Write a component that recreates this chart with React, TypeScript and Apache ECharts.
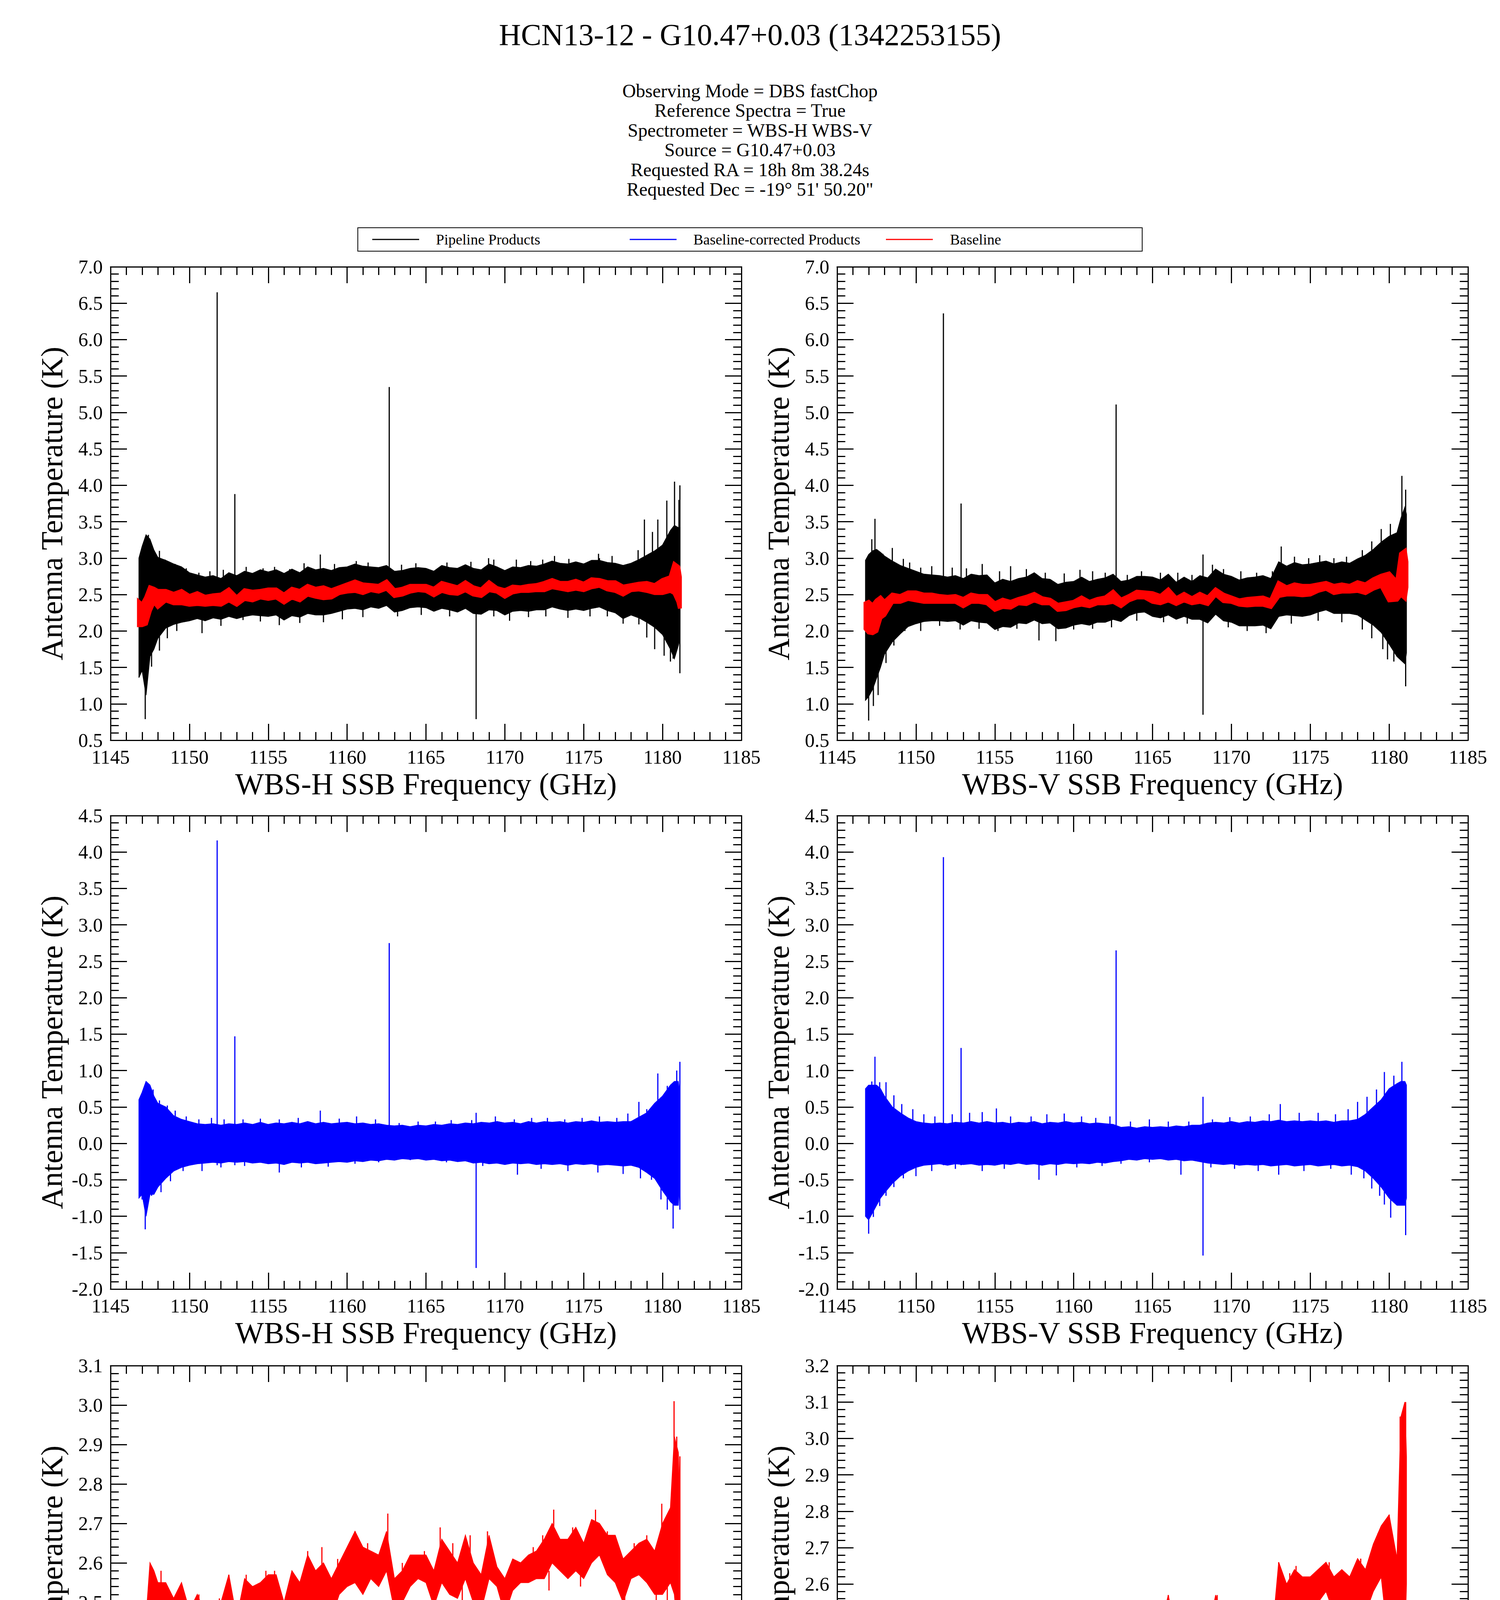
import React, { useEffect, useRef } from 'react';
import * as echarts from 'echarts';

const FONT = '"Liberation Serif", "Times New Roman", serif';

const TITLE = 'HCN13-12 - G10.47+0.03 (1342253155)';
const INFO_LINES = [
  'Observing Mode = DBS fastChop',
  'Reference Spectra = True',
  'Spectrometer = WBS-H WBS-V',
  'Source = G10.47+0.03',
  'Requested RA = 18h 8m 38.24s',
  'Requested Dec = -19\u00b0 51\' 50.20"',
];
const LEGEND_NAMES = ['Pipeline Products', 'Baseline-corrected Products', 'Baseline'];
const X_NAMES = ['WBS-H SSB Frequency (GHz)', 'WBS-V SSB Frequency (GHz)'];
const Y_NAME = 'Antenna Temperature (K)';

// frequency bins (GHz)
const FREQ = [
  1146.8, 1147.0, 1147.25, 1147.5, 1147.75, 1148.0, 1148.5, 1149.0, 1149.5, 1150.0,
  1150.5, 1151.0, 1151.5, 1152.0, 1152.5, 1153.0, 1153.5, 1154.0, 1154.5, 1155.0,
  1155.5, 1156.0, 1156.5, 1157.0, 1157.5, 1158.0, 1158.5, 1159.0, 1159.5, 1160.0,
  1160.5, 1161.0, 1161.5, 1162.0, 1162.5, 1163.0, 1163.5, 1164.0, 1164.5, 1165.0,
  1165.5, 1166.0, 1166.5, 1167.0, 1167.5, 1168.0, 1168.5, 1169.0, 1169.5, 1170.0,
  1170.5, 1171.0, 1171.5, 1172.0, 1172.5, 1173.0, 1173.5, 1174.0, 1174.5, 1175.0,
  1175.5, 1176.0, 1176.5, 1177.0, 1177.5, 1178.0, 1178.5, 1179.0, 1179.5, 1180.0,
  1180.5, 1180.75, 1181.0, 1181.1,
];

// ---- WBS-H pipeline product (black): dense envelope + individual spikes [f, lo, hi]
const H_PIPE_LO = [
  1.36, 1.46, 1.12, 1.65, 1.75, 1.90, 2.04, 2.09, 2.12, 2.14,
  2.17, 2.14, 2.18, 2.16, 2.20, 2.17, 2.20, 2.22, 2.21, 2.20,
  2.22, 2.15, 2.21, 2.19, 2.24, 2.22, 2.22, 2.24, 2.27, 2.30,
  2.31, 2.29, 2.33, 2.31, 2.35, 2.26, 2.28, 2.32, 2.33, 2.32,
  2.27, 2.31, 2.29, 2.26, 2.31, 2.24, 2.23, 2.29, 2.28, 2.22,
  2.27, 2.28, 2.27, 2.29, 2.29, 2.33, 2.30, 2.28, 2.30, 2.28,
  2.31, 2.33, 2.28, 2.25, 2.17, 2.22, 2.18, 2.12, 2.05, 1.95,
  1.75, 1.62, 1.80, 1.90,
];
const H_PIPE_HI = [
  3.00, 3.16, 3.32, 3.26, 3.11, 3.01, 2.97, 2.92, 2.88, 2.80,
  2.77, 2.74, 2.76, 2.72, 2.80, 2.76, 2.82, 2.79, 2.84, 2.81,
  2.84, 2.79, 2.85, 2.80, 2.88, 2.84, 2.86, 2.83, 2.87, 2.88,
  2.92, 2.89, 2.88, 2.87, 2.90, 2.82, 2.83, 2.86, 2.87, 2.86,
  2.82, 2.90, 2.87, 2.86, 2.91, 2.86, 2.84, 2.92, 2.88, 2.83,
  2.88, 2.87, 2.90, 2.89, 2.92, 2.96, 2.93, 2.92, 2.95, 2.92,
  2.97, 2.97, 2.94, 2.93, 2.90, 2.93, 2.98, 3.04, 3.10, 3.18,
  3.38, 3.45, 3.42, 3.30,
];
const H_PIPE_SPIKES = [
  [1147.2, 0.79, 2.4], [1147.4, 2.6, 3.32], [1148.1, 2.7, 3.1], [1150.8, 1.97, 2.3],
  [1151.76, 2.3, 6.65], [1152.88, 2.3, 3.88], [1158.3, 2.5, 3.05], [1162.67, 2.4, 5.35],
  [1168.18, 0.79, 2.6], [1169.3, 2.6, 2.98], [1173.15, 2.6, 3.03], [1176.0, 2.6, 3.0],
  [1177.5, 2.1, 2.3], [1179.7, 2.4, 3.53], [1180.67, 1.62, 2.5], [1180.76, 2.5, 4.05],
  [1181.04, 2.5, 3.8], [1181.1, 1.42, 4.0],
  [1147.58, 2.6, 3.11], [1148.45, 2.6, 2.98], [1149.1, 2.6, 2.92], [1149.8, 2.6, 2.86],
  [1150.6, 2.6, 2.8], [1151.3, 2.6, 2.82], [1152.15, 2.6, 2.84], [1153.6, 2.6, 2.88],
  [1154.67, 2.6, 2.86], [1155.4, 2.6, 2.88], [1156.36, 2.6, 2.85], [1157.27, 2.6, 2.93],
  [1159.2, 2.6, 2.92], [1160.58, 2.6, 2.96], [1161.33, 2.6, 2.94], [1163.45, 2.6, 2.91],
  [1164.36, 2.6, 2.93], [1166.33, 2.6, 2.94], [1167.85, 2.6, 2.95], [1168.97, 2.6, 3.0],
  [1170.73, 2.6, 2.98], [1171.64, 2.6, 2.96], [1172.4, 2.6, 2.98], [1174.06, 2.6, 2.99],
  [1175.94, 2.6, 3.06], [1176.8, 2.6, 3.03], [1178.45, 2.6, 3.11], [1178.85, 2.6, 3.53],
  [1179.36, 2.6, 3.36], [1180.27, 2.6, 3.79],
  [1147.6, 1.51, 2.3], [1148.1, 1.73, 2.3], [1148.6, 1.9, 2.3], [1149.2, 2.0, 2.3],
  [1152.0, 2.07, 2.3], [1153.4, 2.15, 2.4], [1154.5, 2.13, 2.4], [1155.7, 2.08, 2.4],
  [1157.0, 2.11, 2.4], [1158.5, 2.12, 2.4], [1159.7, 2.16, 2.4], [1161.0, 2.19, 2.45],
  [1163.2, 2.2, 2.45], [1164.7, 2.22, 2.45], [1166.5, 2.2, 2.45], [1169.3, 2.2, 2.45],
  [1170.3, 2.14, 2.4], [1171.5, 2.19, 2.45], [1172.6, 2.2, 2.45], [1174.0, 2.18, 2.45],
  [1175.4, 2.2, 2.45], [1176.5, 2.2, 2.45], [1178.5, 2.09, 2.4], [1179.0, 1.91, 2.3],
  [1179.5, 1.75, 2.3], [1180.1, 1.66, 2.3], [1180.5, 1.58, 2.3],
];

// ---- WBS-V pipeline product (black)
const V_PIPE_LO = [
  1.05, 1.10, 1.20, 1.35, 1.50, 1.68, 1.85, 1.96, 2.06, 2.10,
  2.13, 2.14, 2.14, 2.13, 2.14, 2.08, 2.14, 2.12, 2.11, 2.02,
  2.06, 2.05, 2.11, 2.10, 2.15, 2.10, 2.11, 2.03, 2.04, 2.08,
  2.10, 2.08, 2.12, 2.12, 2.16, 2.13, 2.21, 2.25, 2.26, 2.20,
  2.18, 2.22, 2.16, 2.20, 2.16, 2.16, 2.11, 2.23, 2.14, 2.12,
  2.07, 2.07, 2.07, 2.08, 2.03, 2.20, 2.22, 2.21, 2.20, 2.22,
  2.26, 2.29, 2.24, 2.24, 2.24, 2.22, 2.15, 2.08, 1.98, 1.82,
  1.65, 1.60, 1.55, 1.70,
];
const V_PIPE_HI = [
  2.97, 3.05, 3.10, 3.12, 3.08, 3.03, 2.96, 2.90, 2.86, 2.82,
  2.78, 2.77, 2.76, 2.74, 2.76, 2.72, 2.78, 2.76, 2.77, 2.66,
  2.71, 2.68, 2.72, 2.74, 2.80, 2.72, 2.71, 2.64, 2.67, 2.68,
  2.74, 2.68, 2.71, 2.73, 2.78, 2.68, 2.70, 2.75, 2.75, 2.74,
  2.70, 2.78, 2.67, 2.74, 2.68, 2.76, 2.73, 2.85, 2.78, 2.75,
  2.70, 2.73, 2.74, 2.76, 2.72, 2.95, 2.89, 2.94, 2.91, 2.92,
  2.94, 2.96, 2.92, 2.95, 2.93, 2.99, 3.04, 3.12, 3.22, 3.30,
  3.35, 3.55, 3.70, 3.60,
];
const V_PIPE_SPIKES = [
  [1147.0, 0.77, 1.6], [1147.4, 2.5, 3.54], [1151.74, 2.3, 6.36], [1152.86, 2.2, 3.75],
  [1154.2, 2.6, 2.92], [1157.8, 1.87, 2.2], [1158.87, 1.86, 2.2], [1162.69, 2.3, 5.11],
  [1168.2, 0.85, 3.05], [1173.16, 2.6, 3.16], [1180.08, 2.6, 3.47], [1180.3, 1.58, 2.4],
  [1180.81, 2.6, 4.13], [1181.05, 1.24, 3.94],
  [1147.2, 2.6, 3.26], [1147.9, 2.6, 3.06], [1148.5, 2.6, 3.14], [1149.2, 2.6, 2.99],
  [1149.6, 2.6, 2.94], [1150.3, 2.6, 2.87], [1151.0, 2.6, 2.89], [1152.3, 2.55, 2.87],
  [1153.2, 2.55, 2.86], [1155.3, 2.5, 2.82], [1156.0, 2.5, 2.89], [1157.0, 2.5, 2.85],
  [1158.2, 2.5, 2.8], [1159.4, 2.5, 2.79], [1160.4, 2.5, 2.84], [1161.2, 2.5, 2.82],
  [1162.0, 2.5, 2.8], [1163.4, 2.5, 2.77], [1164.3, 2.5, 2.82], [1165.5, 2.5, 2.8],
  [1166.6, 2.5, 2.8], [1167.5, 2.5, 2.77], [1168.8, 2.5, 2.91], [1169.5, 2.5, 2.85],
  [1170.6, 2.5, 2.82], [1171.6, 2.5, 2.8], [1172.6, 2.5, 2.82], [1174.0, 2.6, 3.02],
  [1174.9, 2.6, 3.0], [1175.6, 2.6, 3.04], [1176.5, 2.6, 3.0], [1177.3, 2.6, 3.02],
  [1178.3, 2.6, 3.11], [1178.9, 2.6, 3.23], [1179.5, 2.6, 3.4],
  [1147.3, 0.97, 1.6], [1147.6, 1.12, 1.8], [1148.1, 1.56, 2.0], [1148.6, 1.8, 2.1],
  [1149.3, 2.0, 2.3], [1150.3, 2.0, 2.3], [1151.5, 2.07, 2.3], [1152.8, 2.02, 2.3],
  [1154.0, 2.03, 2.3], [1155.2, 2.0, 2.3], [1156.4, 2.03, 2.3], [1160.0, 2.02, 2.3],
  [1161.2, 2.03, 2.3], [1162.4, 2.05, 2.3], [1164.0, 2.14, 2.4], [1165.7, 2.12, 2.4],
  [1167.2, 2.1, 2.4], [1169.8, 2.05, 2.3], [1171.0, 2.0, 2.3], [1172.2, 1.97, 2.3],
  [1173.8, 2.1, 2.4], [1175.5, 2.14, 2.4], [1177.0, 2.12, 2.4], [1178.3, 2.02, 2.3],
  [1178.9, 1.9, 2.3], [1179.6, 1.75, 2.2], [1179.9, 1.61, 2.2],
];

// ---- baseline-corrected products (blue)
const H_CORR_LO = [
  -0.75, -0.70, -1.00, -0.70, -0.70, -0.60, -0.48, -0.38, -0.33, -0.30,
  -0.28, -0.27, -0.26, -0.27, -0.25, -0.26, -0.25, -0.27, -0.26, -0.28,
  -0.27, -0.29, -0.26, -0.27, -0.26, -0.28, -0.27, -0.26, -0.25, -0.26,
  -0.24, -0.25, -0.23, -0.24, -0.22, -0.23, -0.21, -0.22, -0.21, -0.23,
  -0.22, -0.24, -0.23, -0.25, -0.24, -0.27, -0.26, -0.28, -0.27, -0.29,
  -0.27, -0.28, -0.27, -0.29, -0.28, -0.29, -0.28, -0.30, -0.28, -0.29,
  -0.28, -0.30, -0.29, -0.30, -0.31, -0.30, -0.33, -0.40, -0.48, -0.65,
  -0.80, -0.85, -0.85, -0.50,
];
const H_CORR_HI = [
  0.60, 0.70, 0.85, 0.80, 0.65, 0.55, 0.50, 0.38, 0.33, 0.30,
  0.27, 0.26, 0.27, 0.25, 0.27, 0.26, 0.28, 0.26, 0.29, 0.26,
  0.28, 0.27, 0.29, 0.27, 0.30, 0.27, 0.29, 0.27, 0.28, 0.29,
  0.27, 0.28, 0.26, 0.27, 0.25, 0.24, 0.25, 0.23, 0.25, 0.24,
  0.26, 0.25, 0.27, 0.26, 0.28, 0.27, 0.29, 0.28, 0.30, 0.28,
  0.29, 0.27, 0.30, 0.28, 0.30, 0.29, 0.30, 0.28, 0.30, 0.29,
  0.31, 0.29, 0.30, 0.29, 0.30, 0.30, 0.36, 0.42, 0.55, 0.65,
  0.80, 0.85, 0.85, 0.65,
];
const H_CORR_SPIKES = [
  [1147.2, -1.18, -0.5], [1150.8, -0.38, -0.2], [1151.76, -0.3, 4.16], [1152.88, -0.3, 1.47],
  [1158.3, 0.2, 0.45], [1162.67, -0.15, 2.75], [1168.18, -1.71, 0.42], [1177.5, -0.42, -0.2],
  [1179.7, 0.3, 0.96], [1180.67, -1.17, -0.6], [1180.9, 0.5, 1.0], [1181.1, -0.91, 1.12],
  [1147.0, 0.3, 0.69], [1147.7, 0.3, 0.74], [1148.1, 0.3, 0.59], [1148.6, 0.2, 0.52],
  [1149.1, 0.2, 0.45], [1149.8, 0.15, 0.37], [1150.6, 0.15, 0.33], [1151.4, 0.15, 0.35],
  [1152.2, 0.15, 0.33], [1153.4, 0.15, 0.33], [1154.5, 0.15, 0.34], [1155.7, 0.15, 0.33],
  [1156.9, 0.15, 0.35], [1159.5, 0.15, 0.34], [1160.6, 0.15, 0.37], [1161.8, 0.15, 0.33],
  [1163.3, 0.1, 0.28], [1164.5, 0.1, 0.3], [1165.6, 0.1, 0.3], [1166.6, 0.1, 0.32],
  [1167.9, 0.1, 0.32], [1169.4, 0.15, 0.37], [1170.6, 0.15, 0.33], [1171.7, 0.15, 0.35],
  [1172.7, 0.15, 0.35], [1173.8, 0.15, 0.33], [1174.9, 0.15, 0.35], [1176.0, 0.15, 0.37],
  [1177.1, 0.15, 0.35], [1177.8, 0.15, 0.41], [1178.5, 0.2, 0.57], [1179.0, 0.2, 0.47],
  [1180.3, 0.3, 0.79], [1180.8, 0.3, 0.83],
  [1147.0, -0.77, -0.3], [1147.6, -0.72, -0.3], [1148.2, -0.67, -0.3], [1148.8, -0.52, -0.2],
  [1149.6, -0.38, -0.15], [1152.0, -0.33, -0.15], [1153.5, -0.31, -0.15], [1155.7, -0.4, -0.15],
  [1157.1, -0.33, -0.15], [1158.8, -0.32, -0.15], [1160.5, -0.28, -0.1], [1162.0, -0.26, -0.1],
  [1164.0, -0.23, -0.1], [1166.3, -0.26, -0.1], [1168.6, -0.31, -0.15], [1170.8, -0.43, -0.15],
  [1172.3, -0.35, -0.15], [1174.0, -0.38, -0.15], [1175.9, -0.4, -0.15], [1178.6, -0.48, -0.2],
  [1179.3, -0.5, -0.2], [1179.9, -0.77, -0.3], [1180.3, -0.91, -0.3],
];

const V_CORR_LO = [
  -1.00, -1.05, -0.95, -0.85, -0.75, -0.68, -0.55, -0.45, -0.38, -0.33,
  -0.30, -0.29, -0.28, -0.30, -0.28, -0.29, -0.28, -0.30, -0.29, -0.30,
  -0.28, -0.29, -0.27, -0.29, -0.28, -0.30, -0.28, -0.29, -0.27, -0.28,
  -0.27, -0.28, -0.26, -0.27, -0.25, -0.24, -0.22, -0.23, -0.21, -0.22,
  -0.21, -0.23, -0.22, -0.24, -0.23, -0.25, -0.27, -0.28, -0.29, -0.28,
  -0.30, -0.29, -0.30, -0.29, -0.31, -0.30, -0.29, -0.31, -0.30, -0.29,
  -0.31, -0.30, -0.29, -0.31, -0.30, -0.32, -0.38, -0.48, -0.60, -0.75,
  -0.85, -0.85, -0.85, -0.75,
];
const V_CORR_HI = [
  0.75, 0.80, 0.80, 0.80, 0.75, 0.65, 0.50, 0.42, 0.35, 0.30,
  0.28, 0.27, 0.28, 0.27, 0.29, 0.28, 0.30, 0.28, 0.30, 0.28,
  0.29, 0.27, 0.29, 0.28, 0.30, 0.27, 0.29, 0.28, 0.30, 0.28,
  0.29, 0.27, 0.28, 0.27, 0.26, 0.22, 0.23, 0.21, 0.23, 0.22,
  0.23, 0.22, 0.24, 0.23, 0.25, 0.25, 0.28, 0.29, 0.28, 0.30,
  0.28, 0.30, 0.29, 0.31, 0.30, 0.32, 0.30, 0.31, 0.30, 0.31,
  0.30, 0.31, 0.29, 0.31, 0.31, 0.33, 0.40, 0.50, 0.60, 0.75,
  0.82, 0.85, 0.85, 0.80,
];
const V_CORR_SPIKES = [
  [1147.0, -1.24, -0.6], [1147.4, 0.5, 1.19], [1151.74, -0.3, 3.93], [1152.86, -0.3, 1.31],
  [1155.1, 0.2, 0.48], [1157.8, -0.5, -0.2], [1158.9, -0.44, -0.2], [1162.69, -0.2, 2.65],
  [1168.2, -1.54, 0.64], [1180.1, -1.02, -0.6], [1180.81, 0.5, 1.12], [1181.05, -1.26, -0.6],
  [1147.2, 0.4, 0.85], [1147.7, 0.4, 0.84], [1148.1, 0.4, 0.84], [1148.6, 0.3, 0.66],
  [1149.1, 0.25, 0.54], [1149.8, 0.2, 0.47], [1150.5, 0.2, 0.4], [1151.2, 0.15, 0.37],
  [1152.3, 0.15, 0.4], [1153.4, 0.15, 0.42], [1154.2, 0.15, 0.43], [1156.0, 0.15, 0.37],
  [1157.3, 0.15, 0.37], [1158.3, 0.15, 0.4], [1159.4, 0.15, 0.41], [1160.5, 0.15, 0.37],
  [1161.4, 0.15, 0.35], [1162.3, 0.15, 0.37], [1163.6, 0.1, 0.3], [1164.8, 0.1, 0.33],
  [1166.0, 0.1, 0.3], [1167.3, 0.1, 0.3], [1168.8, 0.15, 0.33], [1169.9, 0.15, 0.36],
  [1171.2, 0.15, 0.37], [1172.4, 0.15, 0.4], [1173.1, 0.2, 0.54], [1174.3, 0.15, 0.42],
  [1175.5, 0.15, 0.42], [1176.6, 0.15, 0.4], [1177.4, 0.2, 0.47], [1178.0, 0.2, 0.57],
  [1178.6, 0.25, 0.64], [1179.2, 0.3, 0.74], [1179.7, 0.4, 0.98], [1180.3, 0.4, 0.93],
  [1147.3, -1.01, -0.5], [1147.7, -0.86, -0.4], [1148.1, -0.72, -0.3], [1148.6, -0.6, -0.3],
  [1149.2, -0.48, -0.2], [1150.0, -0.45, -0.2], [1151.0, -0.38, -0.15], [1152.5, -0.35, -0.15],
  [1154.2, -0.38, -0.15], [1155.6, -0.35, -0.15], [1160.2, -0.33, -0.15], [1161.8, -0.31, -0.15],
  [1163.0, -0.28, -0.1], [1164.8, -0.26, -0.1], [1166.8, -0.43, -0.1], [1168.7, -0.33, -0.15],
  [1170.2, -0.35, -0.15], [1171.7, -0.38, -0.15], [1173.0, -0.43, -0.15], [1174.6, -0.38, -0.15],
  [1176.3, -0.35, -0.15], [1177.6, -0.43, -0.15], [1178.4, -0.48, -0.2], [1178.9, -0.62, -0.2],
  [1179.4, -0.72, -0.3], [1179.7, -0.84, -0.3],
];

// ---- baselines (red)
const H_BASE_LO = [
  2.08, 2.08, 2.10, 2.28, 2.40, 2.33, 2.42, 2.38, 2.38, 2.36,
  2.37, 2.36, 2.37, 2.36, 2.42, 2.36, 2.44, 2.42, 2.46, 2.44,
  2.46, 2.39, 2.46, 2.42, 2.50, 2.47, 2.45, 2.46, 2.52, 2.54,
  2.55, 2.52, 2.56, 2.54, 2.58, 2.48, 2.50, 2.54, 2.56, 2.55,
  2.49, 2.55, 2.52, 2.51, 2.56, 2.50, 2.48, 2.56, 2.54, 2.47,
  2.53, 2.55, 2.55, 2.56, 2.56, 2.60, 2.58, 2.56, 2.58, 2.56,
  2.60, 2.62, 2.57, 2.55, 2.50, 2.56, 2.57, 2.55, 2.52, 2.52,
  2.55, 2.52, 2.40, 2.31,
];
const H_BASE_HI = [
  2.40, 2.36, 2.46, 2.60, 2.58, 2.55, 2.55, 2.51, 2.55, 2.48,
  2.52, 2.47, 2.49, 2.50, 2.57, 2.46, 2.56, 2.54, 2.55, 2.57,
  2.57, 2.50, 2.58, 2.55, 2.62, 2.58, 2.60, 2.56, 2.60, 2.64,
  2.68, 2.64, 2.63, 2.62, 2.68, 2.56, 2.58, 2.62, 2.62, 2.62,
  2.58, 2.66, 2.63, 2.60, 2.67, 2.60, 2.57, 2.67, 2.59, 2.56,
  2.61, 2.60, 2.62, 2.63, 2.66, 2.70, 2.66, 2.66, 2.69, 2.65,
  2.71, 2.70, 2.67, 2.67, 2.61, 2.63, 2.65, 2.66, 2.63, 2.70,
  2.74, 2.92, 2.88, 2.74,
];
const H_BASE_SPIKES = [
  [1147.12, 1.96, 2.2], [1147.85, 2.32, 2.45], [1150.2, 2.35, 2.42], [1153.0, 2.34, 2.42],
  [1156.1, 2.38, 2.45], [1158.4, 2.52, 2.64], [1162.58, 2.6, 2.725], [1165.9, 2.58, 2.69],
  [1168.25, 2.41, 2.52], [1168.9, 2.58, 2.68], [1173.1, 2.62, 2.735], [1175.75, 2.62, 2.735],
  [1179.95, 2.6, 2.75], [1180.73, 2.6, 3.01], [1180.9, 2.5, 2.92], [1181.1, 2.31, 2.87],
  [1148.2, 2.5, 2.58], [1149.3, 2.45, 2.52], [1150.6, 2.45, 2.52], [1151.9, 2.44, 2.51],
  [1152.5, 2.5, 2.57], [1153.6, 2.5, 2.57], [1154.85, 2.5, 2.58], [1155.4, 2.5, 2.58],
  [1157.5, 2.55, 2.63], [1159.4, 2.55, 2.61], [1160.5, 2.6, 2.68], [1161.3, 2.58, 2.65],
  [1163.5, 2.52, 2.6], [1164.9, 2.57, 2.63], [1166.7, 2.58, 2.65], [1167.8, 2.6, 2.67],
  [1171.8, 2.58, 2.64], [1172.4, 2.6, 2.67], [1174.3, 2.6, 2.69], [1176.5, 2.62, 2.68],
  [1178.2, 2.6, 2.65], [1179.0, 2.6, 2.67],
  [1149.3, 2.37, 2.43], [1150.6, 2.36, 2.42], [1151.3, 2.35, 2.42], [1152.3, 2.36, 2.42],
  [1153.8, 2.41, 2.47], [1155.3, 2.43, 2.48], [1157.1, 2.41, 2.47], [1158.7, 2.44, 2.5],
  [1163.3, 2.47, 2.52], [1165.5, 2.48, 2.54], [1167.3, 2.5, 2.55], [1170.1, 2.46, 2.52],
  [1172.8, 2.53, 2.58], [1174.8, 2.54, 2.58], [1177.6, 2.5, 2.55], [1179.6, 2.49, 2.55],
  [1180.3, 2.49, 2.55],
];

const V_BASE_LO = [
  2.03, 1.98, 1.97, 2.00, 2.18, 2.22, 2.40, 2.40, 2.44, 2.42,
  2.40, 2.40, 2.40, 2.40, 2.40, 2.34, 2.40, 2.40, 2.38, 2.29,
  2.33, 2.32, 2.38, 2.37, 2.42, 2.38, 2.38, 2.29, 2.30, 2.34,
  2.36, 2.34, 2.38, 2.38, 2.40, 2.34, 2.42, 2.46, 2.46, 2.40,
  2.38, 2.42, 2.37, 2.42, 2.38, 2.40, 2.37, 2.50, 2.41, 2.40,
  2.36, 2.35, 2.36, 2.36, 2.33, 2.48, 2.50, 2.50, 2.49, 2.50,
  2.55, 2.58, 2.52, 2.54, 2.54, 2.55, 2.52, 2.58, 2.62, 2.42,
  2.43, 2.50, 2.45, 2.60,
];
const V_BASE_HI = [
  2.38, 2.40, 2.35, 2.42, 2.46, 2.40, 2.50, 2.48, 2.53, 2.53,
  2.50, 2.50, 2.48, 2.47, 2.48, 2.44, 2.50, 2.48, 2.48, 2.38,
  2.43, 2.40, 2.44, 2.47, 2.51, 2.45, 2.43, 2.36, 2.38, 2.40,
  2.46, 2.40, 2.44, 2.46, 2.54, 2.43, 2.48, 2.54, 2.53, 2.52,
  2.48, 2.57, 2.45, 2.51, 2.45, 2.51, 2.46, 2.57, 2.50, 2.46,
  2.42, 2.44, 2.45, 2.46, 2.42, 2.66, 2.60, 2.64, 2.62, 2.62,
  2.64, 2.66, 2.62, 2.64, 2.62, 2.67, 2.64, 2.71, 2.76, 2.79,
  2.67, 3.06, 3.10, 2.95,
];
const V_BASE_SPIKES = [
  [1147.3, 1.97, 2.1], [1155.0, 2.29, 2.35], [1159.0, 2.28, 2.33], [1162.5, 2.45, 2.55],
  [1163.2, 2.32, 2.4], [1166.0, 2.45, 2.57], [1169.1, 2.5, 2.57], [1172.5, 2.33, 2.4],
  [1173.0, 2.5, 2.66], [1180.0, 2.6, 2.79], [1180.1, 2.39, 2.5], [1180.7, 2.6, 3.06],
  [1181.05, 2.6, 3.1],
  [1147.6, 2.3, 2.44], [1148.5, 2.45, 2.51], [1149.4, 2.45, 2.53], [1150.2, 2.48, 2.54],
  [1151.0, 2.45, 2.51], [1152.4, 2.43, 2.49], [1153.3, 2.45, 2.51], [1154.3, 2.44, 2.49],
  [1157.4, 2.45, 2.51], [1160.4, 2.4, 2.46], [1164.1, 2.48, 2.54], [1165.3, 2.46, 2.53],
  [1167.9, 2.45, 2.51], [1173.7, 2.57, 2.63], [1174.1, 2.57, 2.65], [1175.4, 2.58, 2.63],
  [1176.2, 2.6, 2.66], [1178.2, 2.6, 2.67], [1179.3, 2.62, 2.74],
  [1150.6, 2.37, 2.42], [1153.0, 2.33, 2.38], [1155.7, 2.32, 2.36], [1157.0, 2.36, 2.4],
  [1159.1, 2.28, 2.32], [1161.0, 2.33, 2.37], [1165.1, 2.35, 2.4], [1166.7, 2.37, 2.41],
  [1167.7, 2.38, 2.42], [1168.3, 2.36, 2.4], [1171.0, 2.33, 2.37], [1174.9, 2.48, 2.52],
  [1176.9, 2.48, 2.52], [1178.6, 2.5, 2.55], [1180.4, 2.43, 2.5],
];

// axis ranges per panel: [min, max, interval]
const Y_RANGES = [
  [0.5, 7.0, 0.5], [0.5, 7.0, 0.5],
  [-2.0, 4.5, 0.5], [-2.0, 4.5, 0.5],
  [1.9, 3.1, 0.1], [1.9, 3.2, 0.1],
];
const X_RANGE = [1145, 1185, 5];

const GRIDS = [
  { left: 283, top: 683 }, { left: 2143, top: 683 },
  { left: 283, top: 2088 }, { left: 2143, top: 2088 },
  { left: 283, top: 3496 }, { left: 2143, top: 3496 },
];

function bandSeries(g: number, lo: number[], hi: number[], color: string, width: number) {
  return {
    type: 'custom',
    xAxisIndex: 2 * g,
    yAxisIndex: 2 * g,
    silent: true,
    clip: true,
    data: FREQ.map((f, i) => [f, lo[i], hi[i]]),
    renderItem: (params: any, api: any) => {
      if (params.dataIndex !== 0) return null;
      const pts: number[][] = [];
      for (let i = 0; i < FREQ.length; i++) pts.push(api.coord([FREQ[i], hi[i]]));
      for (let i = FREQ.length - 1; i >= 0; i--) pts.push(api.coord([FREQ[i], lo[i]]));
      return {
        type: 'polygon',
        shape: { points: pts },
        style: { fill: color, stroke: color, lineWidth: width, lineJoin: 'miter' },
      };
    },
  };
}

function spikeSeries(g: number, spikes: number[][], color: string, width: number) {
  return {
    type: 'custom',
    xAxisIndex: 2 * g,
    yAxisIndex: 2 * g,
    silent: true,
    clip: true,
    data: spikes,
    renderItem: (params: any, api: any) => {
      const a = api.coord([api.value(0), api.value(1)]);
      const b = api.coord([api.value(0), api.value(2)]);
      return {
        type: 'line',
        shape: { x1: a[0], y1: a[1], x2: b[0], y2: b[1] },
        style: { stroke: color, lineWidth: width },
      };
    },
  };
}

const AXIS_LINE = { show: true, onZero: false, lineStyle: { color: '#000', width: 3 } };
const AXIS_TICK = { show: true, inside: true, length: 42, lineStyle: { color: '#000', width: 3 } };
const MINOR_TICK = { show: true, splitNumber: 5, length: 21, lineStyle: { color: '#000', width: 3 } };

function buildOption() {
  const grid = GRIDS.map((g) => ({ left: g.left, top: g.top, width: 1615, height: 1212, containLabel: false }));
  const xAxis: any[] = [];
  const yAxis: any[] = [];
  GRIDS.forEach((_, g) => {
    const base = {
      type: 'value', gridIndex: g, min: X_RANGE[0], max: X_RANGE[1], interval: X_RANGE[2],
      axisLine: AXIS_LINE, axisTick: AXIS_TICK, minorTick: MINOR_TICK,
      splitLine: { show: false }, minorSplitLine: { show: false },
    };
    xAxis.push({
      ...base, position: 'bottom',
      axisLabel: {
        show: true, margin: 18, fontSize: 50, fontFamily: FONT, color: '#000',
        formatter: (v: number) => String(v),
      },
      name: X_NAMES[g % 2], nameLocation: 'middle', nameGap: 72,
      nameTextStyle: { fontSize: 78, fontFamily: FONT, color: '#000' },
    });
    xAxis.push({ ...base, position: 'top', axisLabel: { show: false } });
    const [mn, mx, iv] = Y_RANGES[g];
    const ybase = {
      type: 'value', gridIndex: g, min: mn, max: mx, interval: iv,
      axisLine: AXIS_LINE, axisTick: AXIS_TICK, minorTick: MINOR_TICK,
      splitLine: { show: false }, minorSplitLine: { show: false },
    };
    yAxis.push({
      ...ybase, position: 'left',
      axisLabel: {
        show: true, margin: 20, fontSize: 50, fontFamily: FONT, color: '#000',
        formatter: (v: number) => v.toFixed(1),
      },
      name: Y_NAME, nameLocation: 'middle', nameGap: 112, nameRotate: 90,
      nameTextStyle: { fontSize: 78, fontFamily: FONT, color: '#000' },
    });
    yAxis.push({ ...ybase, position: 'right', axisLabel: { show: false } });
  });

  const series: any[] = [
    bandSeries(0, H_PIPE_LO, H_PIPE_HI, '#000000', 2),
    spikeSeries(0, H_PIPE_SPIKES, '#000000', 3),
    bandSeries(0, H_BASE_LO, H_BASE_HI, '#ff0000', 10),
    bandSeries(1, V_PIPE_LO, V_PIPE_HI, '#000000', 2),
    spikeSeries(1, V_PIPE_SPIKES, '#000000', 3),
    bandSeries(1, V_BASE_LO, V_BASE_HI, '#ff0000', 10),
    bandSeries(2, H_CORR_LO, H_CORR_HI, '#0000ff', 2),
    spikeSeries(2, H_CORR_SPIKES, '#0000ff', 3),
    bandSeries(3, V_CORR_LO, V_CORR_HI, '#0000ff', 2),
    spikeSeries(3, V_CORR_SPIKES, '#0000ff', 3),
    bandSeries(4, H_BASE_LO, H_BASE_HI, '#ff0000', 2),
    spikeSeries(4, H_BASE_SPIKES, '#ff0000', 3),
    bandSeries(5, V_BASE_LO, V_BASE_HI, '#ff0000', 2),
    spikeSeries(5, V_BASE_SPIKES, '#ff0000', 3),
  ];

  const graphic: any[] = [
    {
      type: 'text', x: 1920, y: 88,
      style: { text: TITLE, fontSize: 78, fontFamily: FONT, fill: '#000', align: 'center', verticalAlign: 'middle' },
    },
    ...INFO_LINES.map((t, i) => ({
      type: 'text', x: 1920, y: 232 + i * 50.5,
      style: { text: t, fontSize: 48, fontFamily: FONT, fill: '#000', align: 'center', verticalAlign: 'middle' },
    })),
    {
      type: 'rect', shape: { x: 916, y: 583, width: 2008, height: 60 },
      style: { fill: '#fff', stroke: '#000', lineWidth: 2 },
    },
  ];
  const legendColors = ['#000000', '#0000ff', '#ff0000'];
  const legendLineX = [953, 1612, 2268];
  const legendTextX = [1116, 1775, 2432];
  LEGEND_NAMES.forEach((name, i) => {
    graphic.push({
      type: 'line', shape: { x1: legendLineX[i], y1: 613, x2: legendLineX[i] + 120, y2: 613 },
      style: { stroke: legendColors[i], lineWidth: 3 },
    });
    graphic.push({
      type: 'text', x: legendTextX[i], y: 613,
      style: { text: name, fontSize: 38, fontFamily: FONT, fill: '#000', align: 'left', verticalAlign: 'middle' },
    });
  });

  return {
    animation: false,
    backgroundColor: '#ffffff',
    grid,
    xAxis,
    yAxis,
    series,
    graphic,
  };
}

export default function App() {
  const ref = useRef<HTMLDivElement>(null);
  useEffect(() => {
    document.body.style.margin = '0';
    if (!ref.current) return;
    const chart = echarts.init(ref.current, undefined, { renderer: 'svg' });
    chart.setOption(buildOption() as any);
    return () => chart.dispose();
  }, []);
  return <div ref={ref} style={{ width: 3840, height: 4943, background: '#fff' }} />;
}
